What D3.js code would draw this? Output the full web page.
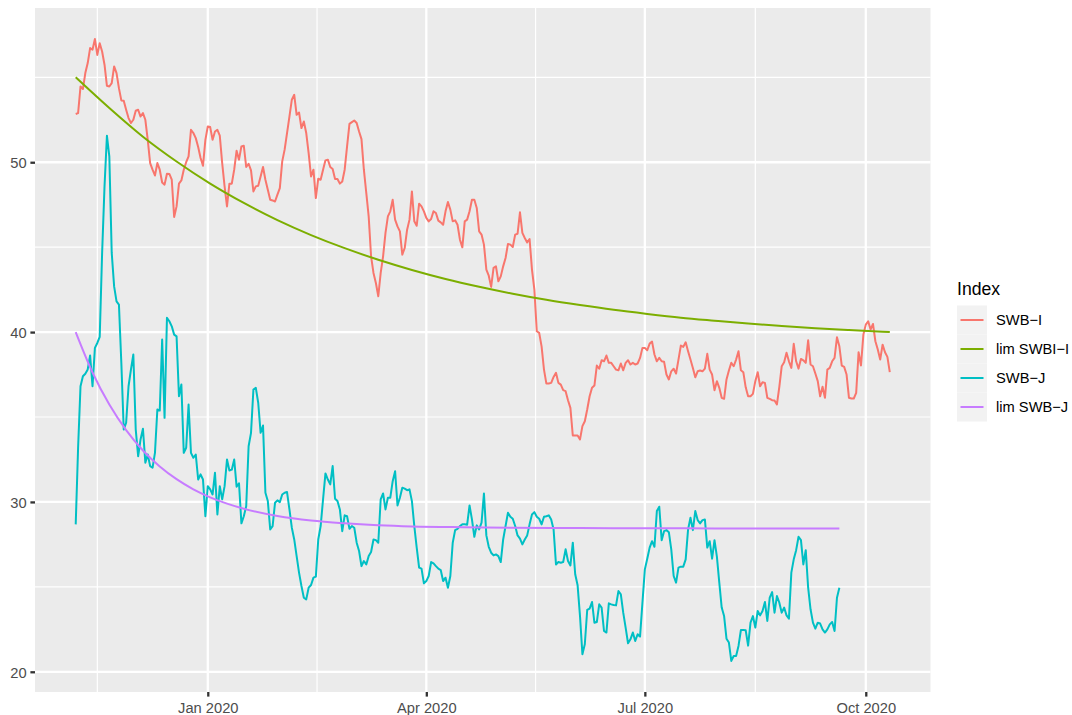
<!DOCTYPE html>
<html>
<head>
<meta charset="utf-8">
<script src="https://cdnjs.cloudflare.com/ajax/libs/d3/7.8.5/d3.min.js"></script>
<style>
  body { margin: 0; background: #ffffff; }
  text { font-family: "Liberation Sans", Arial, sans-serif; }
</style>
</head>
<body>
<svg id="chart" width="1072" height="715"></svg>
<script>
// daily series, index 0 = 2019-11-07
var startDate = Date.UTC(2019, 10, 7);

var swbI = [
  52.84, 52.89, 54.46, 54.31, 55.25, 55.84, 56.72, 56.62, 57.25, 56.32,
  57.01, 56.52, 55.74, 54.5, 54.46, 54.66, 55.64, 55.25, 54.36, 53.64,
  53.62, 53.09, 52.6, 52.31, 52.5, 53.03, 53.09, 52.69, 52.89, 52.5,
  51.32, 49.95, 49.56, 49.22, 49.95, 49.56, 48.81, 48.68, 49.32, 49.31,
  48.97, 46.78, 47.4, 48.74, 48.93, 49.56, 50.0, 50.34, 51.91, 51.72,
  51.42, 50.9, 50.25, 49.79, 51.32, 52.11, 52.07, 51.32, 51.81, 51.91,
  51.56, 49.95, 48.58, 47.4, 48.74, 48.74, 49.56, 50.68, 50.15, 50.93,
  50.97, 49.72, 49.91, 49.52, 48.28, 48.58, 48.62, 49.16, 49.72, 48.97,
  48.38, 47.79, 47.75, 47.69, 48.09, 48.48, 50.05, 50.74, 51.72, 52.69,
  53.68, 53.97, 52.79, 52.93, 52.01, 52.4, 51.72, 50.54, 49.16, 49.56,
  47.89, 49.03, 48.97, 49.56, 50.11, 50.15, 49.72, 49.6, 49.01, 49.01,
  48.74, 48.87, 49.56, 50.93, 52.26, 52.36, 52.46, 52.31, 51.81, 51.36,
  49.56, 48.19, 46.81, 44.46, 43.48, 42.89, 42.11, 43.48, 44.46, 45.84,
  46.81, 47.11, 47.79, 46.62, 46.22, 45.93, 44.56, 44.95, 46.03, 46.62,
  48.28, 46.52, 46.26, 47.56, 47.4, 47.11, 46.72, 46.52, 46.66, 47.11,
  47.01, 46.56, 46.46, 46.32, 47.11, 47.66, 47.21, 46.52, 46.58, 46.32,
  45.44, 44.99, 46.52, 46.62, 47.11, 47.79, 47.79, 47.31, 45.93, 45.74,
  45.15, 43.68, 43.32, 42.66, 43.78, 43.87, 42.99, 43.28, 43.87, 44.36,
  45.19, 45.15, 45.01, 45.74, 45.79, 47.05, 45.84, 45.54, 45.28, 45.48,
  43.68, 42.5, 40.05, 39.95, 39.16, 37.79, 36.97, 36.97, 37.01, 37.36,
  37.6, 37.01, 36.91, 36.58, 36.52, 35.99, 35.54, 33.91, 33.91, 33.91,
  33.68, 34.46, 34.75, 35.44, 36.22, 36.72, 36.85, 38.03, 37.84, 38.34,
  38.28, 38.62, 38.19, 38.19, 37.99, 37.79, 37.75, 38.15, 37.75, 38.19,
  38.34, 38.09, 38.19, 38.09, 38.15, 38.48, 39.07, 39.07, 38.93, 39.32,
  39.44, 38.68, 38.28, 38.48, 38.28, 38.26, 37.5, 37.21, 37.69, 37.84,
  37.56, 38.38, 39.21, 39.13, 39.4, 38.87, 38.38, 37.89, 37.34, 37.69,
  37.74, 37.69, 37.85, 38.72, 37.79, 37.5, 36.58, 37.11, 36.72, 36.13,
  36.07, 37.21, 37.74, 38.19, 37.99, 38.38, 38.87, 37.75, 37.64, 36.75,
  36.22, 36.22, 36.36, 37.11, 37.64, 36.81, 37.05, 37.01, 36.13, 36.07,
  35.99, 35.97, 35.74, 36.78, 37.99, 38.22, 38.78, 38.28, 37.89, 39.31,
  38.28, 37.85, 38.42, 38.34, 38.19, 39.52, 38.09, 37.99, 37.56, 37.11,
  36.22, 36.78, 36.13, 37.79, 37.89, 38.28, 38.48, 39.69, 39.16, 38.03,
  37.95, 37.5, 36.13, 36.09, 36.09, 36.42, 38.81, 38.03, 39.85, 40.44,
  40.64, 40.15, 40.48, 39.46, 38.97, 38.38, 39.26, 38.81, 38.54, 37.64
];

var swbJ = [
  28.68, 33.2, 36.81, 37.4, 37.55, 37.8, 38.62, 36.81, 39.07, 39.36,
  39.72, 44.66, 48.58, 51.56, 50.34, 44.66, 42.69, 41.81, 41.62, 38.19,
  34.26, 34.66, 36.81, 37.79, 38.68, 34.26, 32.69, 33.68, 34.31, 32.31,
  32.79, 32.11, 32.01, 32.89, 35.44, 35.38, 39.56, 34.95, 40.84, 40.64,
  40.34, 39.85, 39.75, 36.22, 36.91, 32.89, 33.19, 35.74, 32.89, 32.6,
  32.79, 31.32, 31.62, 31.32, 29.16, 30.93, 30.74, 30.44, 31.72, 29.26,
  30.93, 30.15, 30.93, 32.5, 31.85, 31.9, 32.5, 30.9, 31.1, 28.74,
  29.16, 29.75, 33.28, 34.07, 36.62, 36.72, 35.84, 34.07, 34.5, 30.54,
  30.05, 28.38, 28.58, 29.95, 30.09, 29.99, 30.44, 30.54, 30.58, 29.56,
  28.48, 27.79, 26.81, 25.84, 25.05, 24.36, 24.26, 24.95, 25.11, 25.54,
  25.6, 27.79, 28.58, 30.15, 31.68, 31.32, 31.03, 32.11, 30.19, 30.05,
  29.56, 28.28, 29.21, 29.16, 28.42, 28.58, 28.48, 27.6, 27.11, 26.22,
  26.52, 26.32, 26.81, 27.05, 27.79, 27.75, 27.6, 30.15, 30.5, 29.56,
  30.25, 30.25, 31.22, 31.81, 29.79, 30.25, 30.84, 30.78, 30.69, 30.74,
  30.05, 28.58, 27.31, 26.13, 26.07, 25.21, 25.34, 25.64, 26.46, 26.38,
  26.22, 26.07, 25.99, 25.34, 25.54, 24.95, 25.64, 27.6, 28.34, 28.42,
  28.58, 28.68, 28.68, 28.66, 29.79, 28.97, 27.95, 28.62, 28.38, 28.78,
  30.5, 28.03, 27.36, 27.01, 26.85, 26.91, 26.81, 26.46, 27.79, 28.58,
  29.36, 29.13, 29.01, 28.58, 28.03, 27.84, 27.5, 27.79, 28.03, 28.68,
  29.26, 29.4, 29.13, 29.01, 28.68, 29.13, 29.16, 29.21, 28.97, 28.38,
  26.32, 26.46, 26.42, 26.46, 27.21, 26.52, 26.26, 27.6, 25.74, 25.09,
  23.28, 21.03, 21.62, 23.64, 23.72, 24.11, 22.89, 22.93, 23.97, 23.78,
  22.4, 22.31, 24.03, 23.97, 23.93, 23.91, 24.75, 24.56, 23.48, 22.6,
  21.68, 21.91, 22.31, 21.81, 22.21, 22.07, 24.07, 26.03, 26.66, 27.31,
  27.69, 27.36, 29.46, 29.72, 27.75, 28.28, 28.34, 28.22, 27.21, 25.64,
  25.25, 26.13, 26.19, 26.19, 26.62, 28.38, 29.07, 28.34, 29.46, 28.93,
  28.74, 28.93, 28.97, 27.31, 27.69, 26.66, 27.75, 26.78, 25.25, 23.78,
  23.28, 21.95, 21.72, 20.64, 20.93, 20.93, 21.52, 22.46, 22.46, 22.44,
  21.54, 22.89, 23.28, 22.6, 23.58, 23.32, 23.58, 24.11, 22.99, 24.36,
  24.69, 23.48, 24.46, 24.07, 23.48, 23.78, 23.32, 23.13, 25.84, 26.62,
  27.16, 27.95, 27.75, 26.32, 27.16, 24.95, 23.68, 22.89, 22.54, 22.89,
  22.84, 22.5, 22.31, 22.5, 22.79, 22.93, 22.4, 24.36, 24.95
];

// limit curves, read every couple of weeks
var limIDay = [0, 14, 28, 42, 56, 70, 84, 98, 112, 126, 140, 154, 168, 182, 196, 210, 224, 238, 252, 266, 280, 294, 308, 322, 336, 339];
var limI = [55.0, 53.19, 51.5, 50.04, 48.74, 47.6, 46.59, 45.71, 44.94, 44.26, 43.66, 43.13, 42.67, 42.26, 41.9, 41.59, 41.31, 41.07, 40.85, 40.67, 40.5, 40.36, 40.23, 40.12, 40.02, 40.0];

var limJDay = [0, 7, 14, 21, 28, 35, 42, 49, 56, 63, 70, 84, 98, 112, 126, 140, 161, 182, 210, 238, 266, 294, 318];
var limJ = [40.0, 37.62, 35.73, 34.23, 33.03, 32.09, 31.34, 30.74, 30.27, 29.9, 29.6, 29.17, 28.9, 28.74, 28.63, 28.56, 28.51, 28.48, 28.46, 28.45, 28.44, 28.44, 28.44];

var seriesNames = ["SWB\u2212I", "lim SWBI\u2212I", "SWB\u2212J", "lim SWB\u2212J"];
var seriesColors = ["#F8766D", "#7CAE00", "#00BFC4", "#C77CFF"];

var xBreakDates = ["2019-10-01", "2020-01-01", "2020-04-01", "2020-07-01", "2020-10-01"];
var xTickLabels = ["Oct 2019", "Jan 2020", "Apr 2020", "Jul 2020", "Oct 2020"];
var yTicks = [20, 30, 40, 50];
var yMinor = [25, 35, 45, 55];

function dayToDate(d) { return new Date(startDate + d * 864e5); }

var series = [
  swbI.map(function(v, i) { return {date: dayToDate(i), value: v}; }),
  limI.map(function(v, i) { return {date: dayToDate(limIDay[i]), value: v}; }),
  swbJ.map(function(v, i) { return {date: dayToDate(i), value: v}; }),
  limJ.map(function(v, i) { return {date: dayToDate(limJDay[i]), value: v}; })
];

var panel = {left: 35, right: 930.5, top: 8, bottom: 692};

var svg = d3.select("#chart");

// ggplot style 5% expansion
var allPts = d3.merge(series);
var xExt = d3.extent(allPts, function(d) { return d.date; });
var xPad = (xExt[1] - xExt[0]) * 0.05;
var x = d3.scaleUtc()
    .domain([new Date(+xExt[0] - xPad), new Date(+xExt[1] + xPad)])
    .range([panel.left, panel.right]);

var yExt = d3.extent(allPts, function(d) { return d.value; });
var yPad = (yExt[1] - yExt[0]) * 0.05;
var y = d3.scaleLinear()
    .domain([yExt[0] - yPad, yExt[1] + yPad])
    .range([panel.bottom, panel.top]);

svg.append("rect")
    .attr("x", panel.left)
    .attr("y", panel.top)
    .attr("width", panel.right - panel.left)
    .attr("height", panel.bottom - panel.top)
    .attr("fill", "#EBEBEB");

var xBreaks = xBreakDates.map(function(s) { return new Date(s + "T00:00:00Z"); });
var xMinor = [];
for (var i = 0; i < xBreaks.length - 1; i++) {
  xMinor.push(new Date((+xBreaks[i] + +xBreaks[i + 1]) / 2));
}
var dom = x.domain();
var inDom = function(d) { return d >= dom[0] && d <= dom[1]; };
var xMajorIn = xBreaks.filter(inDom);
var xMinorIn = xMinor.filter(inDom);

var grid = svg.append("g");
grid.selectAll("line.ymin").data(yMinor).enter().append("line")
    .attr("x1", panel.left).attr("x2", panel.right)
    .attr("y1", function(d) { return y(d); }).attr("y2", function(d) { return y(d); })
    .attr("stroke", "#ffffff").attr("stroke-width", 1.2);
grid.selectAll("line.xmin").data(xMinorIn).enter().append("line")
    .attr("y1", panel.top).attr("y2", panel.bottom)
    .attr("x1", function(d) { return x(d); }).attr("x2", function(d) { return x(d); })
    .attr("stroke", "#ffffff").attr("stroke-width", 1.2);
grid.selectAll("line.ymaj").data(yTicks).enter().append("line")
    .attr("x1", panel.left).attr("x2", panel.right)
    .attr("y1", function(d) { return y(d); }).attr("y2", function(d) { return y(d); })
    .attr("stroke", "#ffffff").attr("stroke-width", 2.3);
grid.selectAll("line.xmaj").data(xMajorIn).enter().append("line")
    .attr("y1", panel.top).attr("y2", panel.bottom)
    .attr("x1", function(d) { return x(d); }).attr("x2", function(d) { return x(d); })
    .attr("stroke", "#ffffff").attr("stroke-width", 2.3);

// data lines
var lineStraight = d3.line()
    .x(function(d) { return x(d.date); })
    .y(function(d) { return y(d.value); });
var lineSmooth = d3.line()
    .curve(d3.curveMonotoneX)
    .x(function(d) { return x(d.date); })
    .y(function(d) { return y(d.value); });

series.forEach(function(s, i) {
  svg.append("path")
      .datum(s)
      .attr("fill", "none")
      .attr("stroke", seriesColors[i])
      .attr("stroke-width", 2)
      .attr("stroke-linejoin", "round")
      .attr("d", (i % 2 === 1) ? lineSmooth : lineStraight);
});

// axes
var labelFor = {};
xBreaks.forEach(function(d, i) { labelFor[+d] = xTickLabels[i]; });

var xAxis = svg.append("g")
    .attr("transform", "translate(0," + panel.bottom + ")")
    .call(d3.axisBottom(x)
      .tickValues(xMajorIn)
      .tickSize(4.6)
      .tickFormat(function(d) { return labelFor[+d]; }));
xAxis.select(".domain").remove();
xAxis.selectAll(".tick line").attr("stroke", "#333333").attr("stroke-width", 2.3);
xAxis.selectAll(".tick text")
    .attr("y", 20.5).attr("dy", null)
    .attr("fill", "#4D4D4D")
    .style("font-size", "14.7px");

var yAxis = svg.append("g")
    .attr("transform", "translate(" + panel.left + ",0)")
    .call(d3.axisLeft(y).tickValues(yTicks).tickSize(4.6).tickPadding(3.7));
yAxis.select(".domain").remove();
yAxis.selectAll(".tick line").attr("stroke", "#333333").attr("stroke-width", 2.3);
yAxis.selectAll(".tick text")
    .attr("fill", "#4D4D4D")
    .attr("dy", "0.36em")
    .style("font-size", "14.7px");
svg.selectAll(".tick text").attr("font-family", null);

// legend
var legend = svg.append("g").attr("transform", "translate(957,0)");
legend.append("text")
    .attr("x", 0).attr("y", 295)
    .attr("fill", "#000000")
    .style("font-size", "17.6px")
    .text("Index");

var keyH = 29, keyTop = 305.5;
var keys = legend.selectAll("g.key").data(seriesNames).enter().append("g")
    .attr("transform", function(d, i) { return "translate(0," + (keyTop + i * keyH) + ")"; });
keys.append("rect")
    .attr("width", 30).attr("height", keyH)
    .attr("fill", "#F2F2F2");
keys.append("line")
    .attr("x1", 3.5).attr("x2", 26.5)
    .attr("y1", keyH / 2).attr("y2", keyH / 2)
    .attr("stroke", function(d, i) { return seriesColors[i]; })
    .attr("stroke-width", 2);
keys.append("text")
    .attr("x", 39).attr("y", keyH / 2)
    .attr("dy", "0.36em")
    .attr("fill", "#000000")
    .style("font-size", "14.7px")
    .text(function(d) { return d; });
</script>
</body>
</html>
